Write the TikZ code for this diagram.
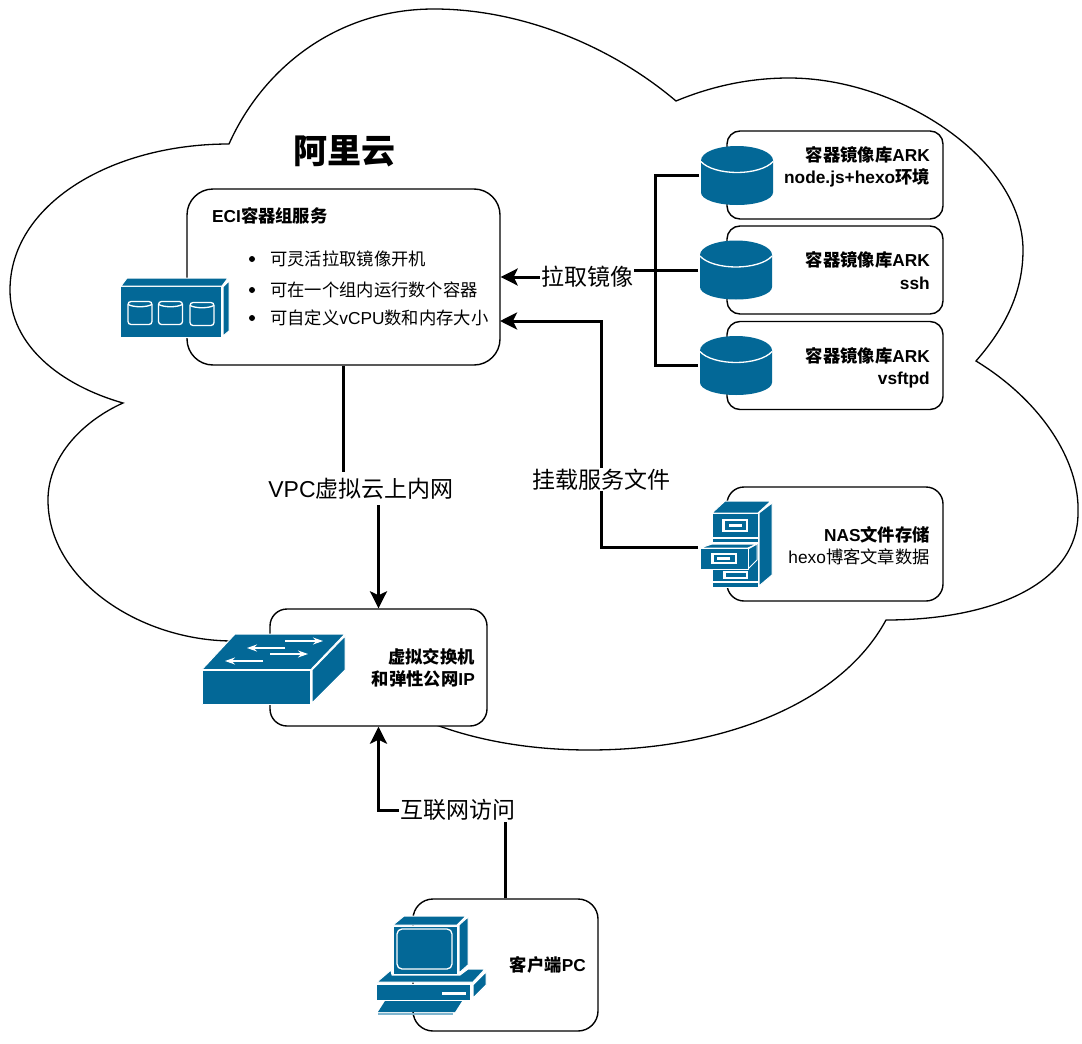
\documentclass[tikz,border=0pt]{standalone}
\usepackage{fontspec}
\setmainfont{Liberation Sans}
\newfontfamily\cjk{Noto Sans CJK SC}
\newcommand{\zh}[1]{{\cjk #1}}
\usetikzlibrary{positioning,arrows.meta,backgrounds}
\definecolor{iconblue}{HTML}{036897}
\definecolor{keyblue}{HTML}{7FB5CF}

\begin{document}
\begin{tikzpicture}[
  x=1pt, y=-1pt,
  panel/.style={rectangle, draw=black, line width=1.4pt, fill=white, inner sep=0pt},
  smalltxt/.style={font=\fontsize{17.3}{22}\selectfont, inner sep=0pt, text height=15pt, text depth=2pt, anchor=center},
  boldtxt/.style={font=\fontsize{17.3}{22}\selectfont\bfseries, inner sep=0pt, text height=15pt, text depth=2pt, anchor=east},
  listdot/.style={circle, fill=black, minimum size=6pt, inner sep=0pt},
  linklabel/.style={font=\fontsize{23}{26}\selectfont, fill=white, inner sep=1pt, anchor=center},
  iconbox/.style={rectangle, inner sep=0pt, outer sep=2pt},
  wire/.style={draw=black, line width=3pt},
  pull/.style={wire, -{Stealth[length=17pt,width=17pt,inset=4pt]}},
  blueface/.style={fill=iconblue, draw=white, line width=1pt, line join=round},
  whitemark/.style={draw=white, line width=1.3pt},
  swarrow/.style={draw=white, line width=1.4pt, -{Stealth[length=10pt,width=7pt]}},
  dbicon/.pic={
    \fill[iconblue] (-36,-15) .. controls (-36,-23) and (-20,-29.5) .. (0,-29.5)
      .. controls (20,-29.5) and (36,-23) .. (36,-15) -- (36,17)
      .. controls (36,24) and (20,29.5) .. (0,29.5)
      .. controls (-20,29.5) and (-36,24) .. (-36,17) -- cycle;
    \draw[whitemark] (-36,-14) .. controls (-30,-7) and (-15,-3) .. (0,-3)
      .. controls (15,-3) and (30,-7) .. (36,-14);
  },
  podcan/.pic={
    \draw[whitemark, rounded corners=3pt] (-12,-11) rectangle (12,12);
    \draw[whitemark] (-12,-8) .. controls (-6,-5) and (6,-5) .. (12,-8);
  }
]
\path[use as bounding box] (0,0) rectangle (1082,1044);

% Boxes
\node[panel, rounded corners=26pt, minimum width=313pt, minimum height=176pt] (eci) at (343.5,277) {};
\node[panel, rounded corners=13pt, minimum width=216pt, minimum height=88pt] (arkOne) at (835,175) {};
\node[panel, rounded corners=13pt, minimum width=216pt, minimum height=88pt] (arkTwo) at (835,270) {};
\node[panel, rounded corners=13pt, minimum width=216pt, minimum height=88pt] (arkThree) at (835,365.5) {};
\node[panel, rounded corners=17pt, minimum width=216pt, minimum height=114pt] (nas) at (835,544) {};
\node[panel, rounded corners=17pt, minimum width=217pt, minimum height=117pt] (vswitch) at (378.5,667.5) {};
\node[panel, rounded corners=20pt, minimum width=185pt, minimum height=132pt] (client) at (505.5,965) {};

% Title and texts
\node[font=\fontsize{34}{36}\selectfont\bfseries\cjk, inner sep=0pt] (title) at (344,151) {阿里云};
\node[boldtxt, anchor=west] (eciTitle) at (212,216) {ECI\zh{容器组服务}};
\node[listdot] (dotOne) at (252,259) {};
\node[listdot] (dotTwo) at (252,290) {};
\node[listdot] (dotThree) at (252,318) {};
\node[smalltxt, anchor=west] (itemOne) at (270,258.5) {\zh{可灵活拉取镜像开机}};
\node[smalltxt, anchor=west] (itemTwo) at (270,289.5) {\zh{可在一个组内运行数个容器}};
\node[smalltxt, anchor=west] (itemThree) at (270,317.5) {\zh{可自定义}vCPU\zh{数和内存大小}};
\node[boldtxt] (arkOneA) at (930,155) {\zh{容器镜像库}ARK};
\node[boldtxt] (arkOneB) at (930,177) {node.js+hexo\zh{环境}};
\node[boldtxt] (arkTwoA) at (930,260) {\zh{容器镜像库}ARK};
\node[boldtxt] (arkTwoB) at (930,283) {ssh};
\node[boldtxt] (arkThreeA) at (930,356) {\zh{容器镜像库}ARK};
\node[boldtxt] (arkThreeB) at (930,378) {vsftpd};
\node[boldtxt] (nasA) at (930,535) {NAS\zh{文件存储}};
\node[smalltxt, anchor=east] (nasB) at (930,557) {hexo\zh{博客文章数据}};
\node[boldtxt] (vswitchA) at (475,657) {\zh{虚拟交换机}};
\node[boldtxt] (vswitchB) at (475,679) {\zh{和弹性公网}IP};
\node[boldtxt] (clientA) at (586,965) {\zh{客户端}PC};

% Link labels
\node[linklabel] (pullLabel) at (587,277) {\zh{拉取镜像}};
\node[linklabel] (mountLabel) at (601,479.5) {\zh{挂载服务文件}};
\node[linklabel, minimum height=33pt] (vpcLabel) at (361,488.5) {VPC\zh{虚拟云上内网}};
\node[linklabel] (netLabel) at (457.5,810) {\zh{互联网访问}};

% Storage icons
\node[iconbox, minimum width=72pt, minimum height=59pt] (cylOne) at (737,175.5) {};
\node[iconbox, minimum width=72pt, minimum height=59pt] (cylTwo) at (736,270) {};
\node[iconbox, minimum width=72pt, minimum height=59pt] (cylThree) at (736,365.5) {};
\pic at (cylOne) {dbicon};
\pic at (cylTwo) {dbicon};
\pic at (cylThree) {dbicon};
\node[iconbox, minimum width=72pt, minimum height=80pt] (nasIcon) at (736,547) {};

% ECI icon
\draw[blueface] (120,286) rectangle (221,337);
\draw[blueface] (121,286) -- (127,278) -- (228,278) -- (222,286) -- cycle;
\draw[blueface] (223,287) -- (229,281) -- (229,331) -- (223,336) -- cycle;
\pic at (140,312.5) {podcan};
\pic at (170.5,312.5) {podcan};
\pic at (202,313.5) {podcan};

% Cabinet icon
\draw[blueface] (712,513) -- (725,501) -- (771,501) -- (758,513) -- cycle;
\draw[blueface] (759,513) -- (772,503) -- (772,575) -- (759,586) -- cycle;
\draw[blueface] (712,513) rectangle (758,587);
\draw[white, line width=1.6pt] (712,538) -- (758,538) (712,543) -- (758,543) (712,582) -- (758,582);
\fill[white] (722,519) rectangle (748,532);
\fill[iconblue] (724.5,521) rectangle (745.5,529.5);
\fill[white] (729,523.5) rectangle (742,526.5);
\fill[white] (723,571) rectangle (748,579);
\fill[iconblue] (725.5,573) rectangle (745.5,577);
\draw[blueface] (700,548) -- (712,544) -- (757,544) -- (748,548) -- cycle;
\draw[blueface] (748,549) -- (757,544) -- (757,560) -- (748,569) -- cycle;
\draw[blueface] (700,548) rectangle (748,569);
\fill[white] (711,553) rectangle (737,564);
\fill[iconblue] (713.5,555) rectangle (734.5,562);
\fill[white] (717,557) rectangle (730,560);

% Switch icon
\draw[blueface] (202,669.5) -- (235,634) -- (345,634) -- (311,669.5) -- cycle;
\draw[blueface] (312,670) -- (345,636) -- (345,670) -- (312,703) -- cycle;
\draw[blueface] (202,670) rectangle (310,704.5);
\draw[swarrow] (285,641) -- (323,641);
\draw[swarrow] (285,648) -- (247,648);
\draw[swarrow] (270,654) -- (308,654);
\draw[swarrow] (263,661) -- (225,661);

% PC icon
\draw[blueface] (393,925) -- (404,916) -- (466,916) -- (457,925) -- cycle;
\draw[blueface] (459,925) -- (468,917) -- (468,965) -- (459,973) -- cycle;
\draw[blueface] (393,926) rectangle (457,974);
\draw[whitemark, rounded corners=5pt] (397,929) rectangle (452,969);
\draw[blueface] (377,982) -- (391,970) -- (392,975) -- (460,975) -- (468,969) -- (485,969) -- (473,982) -- cycle;
\draw[blueface] (376,984) rectangle (470,1000);
\draw[blueface] (473,985) -- (486,972) -- (486,985) -- (473,998) -- cycle;
\fill[white] (442,991.5) rectangle (466,995);
\fill[iconblue] (385,1001) -- (462,1001) -- (455,1012) -- (378,1012) -- cycle;
\draw[keyblue, line width=1.8pt] (378,1014) -- (453,1014);

\begin{pgfonlayer}{background}
\fill[white] (0,0) rectangle (1082,1044);
% Cloud
\draw[draw=black, line width=1.3pt, fill=white] (229,144)
  .. controls (262,70) and (335,9) .. (434,9)
  .. controls (520,9) and (610,45) .. (676,101)
  .. controls (712,86) and (750,78) .. (789,78)
  .. controls (900,78) and (1023,160) .. (1023,250)
  .. controls (1023,295) and (1003,330) .. (976,361)
  .. controls (1040,400) and (1080,460) .. (1078,513)
  .. controls (1078,585) and (990,620) .. (886,620)
  .. controls (840,705) and (720,750) .. (589,750)
  .. controls (535,750) and (485,742) .. (442,727)
  -- (300,680) -- (233,641)
  .. controls (140,641) and (48,580) .. (48,500)
  .. controls (48,455) and (85,420) .. (123,403)
  .. controls (60,385) and (10,345) .. (10,290)
  .. controls (10,205) and (110,144) .. (229,144) -- cycle;
% Links
\coordinate (trunkTop) at (655,175.5);
\coordinate (trunkEnd) at (655,365.5);
\coordinate (eciMount) at (500,321);
\draw[wire, line join=miter] (cylOne.west) -- (trunkTop) -- (trunkEnd) -- (cylThree.west);
\draw[pull] (cylTwo.west) -| (pullLabel.center) -- (eci.east);
\draw[pull] (nasIcon.west) -| (mountLabel.center) |- (eciMount);
\draw[pull] (eci.south) |- (vpcLabel.center) -| (vswitch.north);
\draw[pull] (client.north) |- (netLabel.center) -| (vswitch.south);
\end{pgfonlayer}
\end{tikzpicture}
\end{document}
